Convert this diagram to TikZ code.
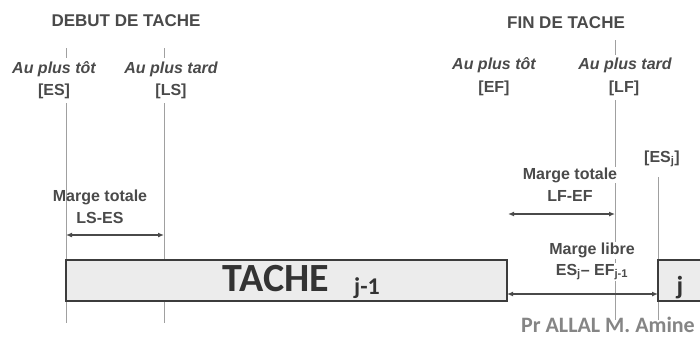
\documentclass[tikz,border=0pt]{standalone}
\usepackage{fontspec}
\setmainfont{Liberation Sans}
\newfontfamily\calib{Carlito}
\usetikzlibrary{arrows.meta}
\definecolor{txtgray}{HTML}{4A4A4A}
\definecolor{linegray}{HTML}{A0A0A0}
\definecolor{boxfill}{HTML}{ECECEC}
\definecolor{boxdraw}{HTML}{3C3C3C}
\definecolor{arrowgray}{HTML}{4A4A4A}
\definecolor{signgray}{HTML}{858585}
\tikzset{
  lbl/.style={text=txtgray, font=\fontsize{16}{18}\selectfont\bfseries, inner sep=1pt},
  head/.style={text=txtgray, font=\fontsize{17}{19}\selectfont\bfseries, inner sep=1pt},
  ital/.style={text=txtgray, font=\fontsize{16}{18}\selectfont\bfseries\itshape, inner sep=1pt},
  mask/.style={fill=white},
  guide/.style={draw=linegray, line width=0.9pt},
  taskbox/.style={draw=boxdraw, fill=boxfill, line width=1.6pt},
  span/.style={draw=arrowgray, line width=1.3pt, {Latex[length=6pt,width=5pt]}-{Latex[length=6pt,width=5pt]}},
}
\begin{document}
\begin{tikzpicture}[x=1pt,y=-1pt]
\useasboundingbox (0,0) rectangle (700,338);
% coordinates for guides
\coordinate (es0) at (66,48);  \coordinate (es1) at (66,58);
\coordinate (es2) at (66,103); \coordinate (es3) at (66,323);
\coordinate (ls0) at (164,48); \coordinate (ls1) at (164,58);
\coordinate (ls2) at (164,103);\coordinate (ls3) at (164,323);
\coordinate (lf0) at (615,40); \coordinate (lf1) at (615,55);
\coordinate (lf2) at (615,100);\coordinate (lf3) at (615,320);
\coordinate (esj0) at (658,177);\coordinate (esj1) at (658,320);
% guides
\draw[guide] (es0) -- (es1); \draw[guide] (es2) -- (es3);
\draw[guide] (ls0) -- (ls1); \draw[guide] (ls2) -- (ls3);
\draw[guide] (lf0) -- (lf1); \draw[guide] (lf2) -- (lf3);
\draw[guide] (esj0) -- (esj1);
% task boxes
\draw[taskbox] (66,260) rectangle (507,301);
\draw[taskbox] (658,260) rectangle (712,301);
\coordinate (boxR) at (507,294);
\coordinate (boxjL) at (658,294);
\node[inner sep=0pt, text=black!80, font=\calib\bfseries\fontsize{40}{40}\selectfont] (tache) at (276,279) {TACHE};
\node[inner sep=0pt, text=black!80, font=\calib\bfseries\fontsize{24}{24}\selectfont, anchor=base] (jm1) at (367,294) {j-1};
\node[inner sep=0pt, text=black!80, font=\calib\bfseries\fontsize{26}{26}\selectfont, anchor=base] (jj) at (680,294) {j};
% headings
\node[head] (debut) at (126,21) {DEBUT DE TACHE};
\node[head] (fin) at (566,23) {FIN DE TACHE};
% left labels
\node[ital] (aptL) at (54,69) {Au plus tôt};
\node[lbl] (esL) at (54,91) {[ES]};
\node[ital] (aptaL) at (171,69) {Au plus tard};
\node[lbl] (lsL) at (171,91) {[LS]};
% right labels
\node[ital] (aptR) at (494,65) {Au plus tôt};
\node[lbl] (efR) at (494,88) {[EF]};
\node[ital] (aptaR) at (625,65) {Au plus tard};
\node[lbl] (lfR) at (624,88) {[LF]};
\node[lbl] (esj) at (662,159) {[ES\textsubscript{j}]};
% margins
\node[lbl] (mtL) at (100,197) {Marge totale};
\node[lbl] (lsesL) at (100,218) {LS-ES};
\coordinate (a1) at (66,235); \coordinate (a2) at (164,235);
\draw[span] (a1) -- (a2);
\node[lbl, mask] (mtR) at (570,175) {Marge totale};
\node[lbl] (lfefR) at (570,196) {LF-EF};
\coordinate (b1) at (508,214); \coordinate (b2) at (615,214);
\draw[span] (b1) -- (b2);
\node[lbl, mask] (mlib) at (592,250) {Marge libre};
\node[lbl, mask] (mlibf) at (592,272) {ES\textsubscript{j}– EF\textsubscript{j-1}};
\draw[span] (boxR) -- (boxjL);
% signature
\node[inner sep=0pt, anchor=base east, text=signgray, font=\calib\bfseries\fontsize{22}{22}\selectfont] (sign) at (695,332) {Pr ALLAL M. Amine};
\end{tikzpicture}
\end{document}
